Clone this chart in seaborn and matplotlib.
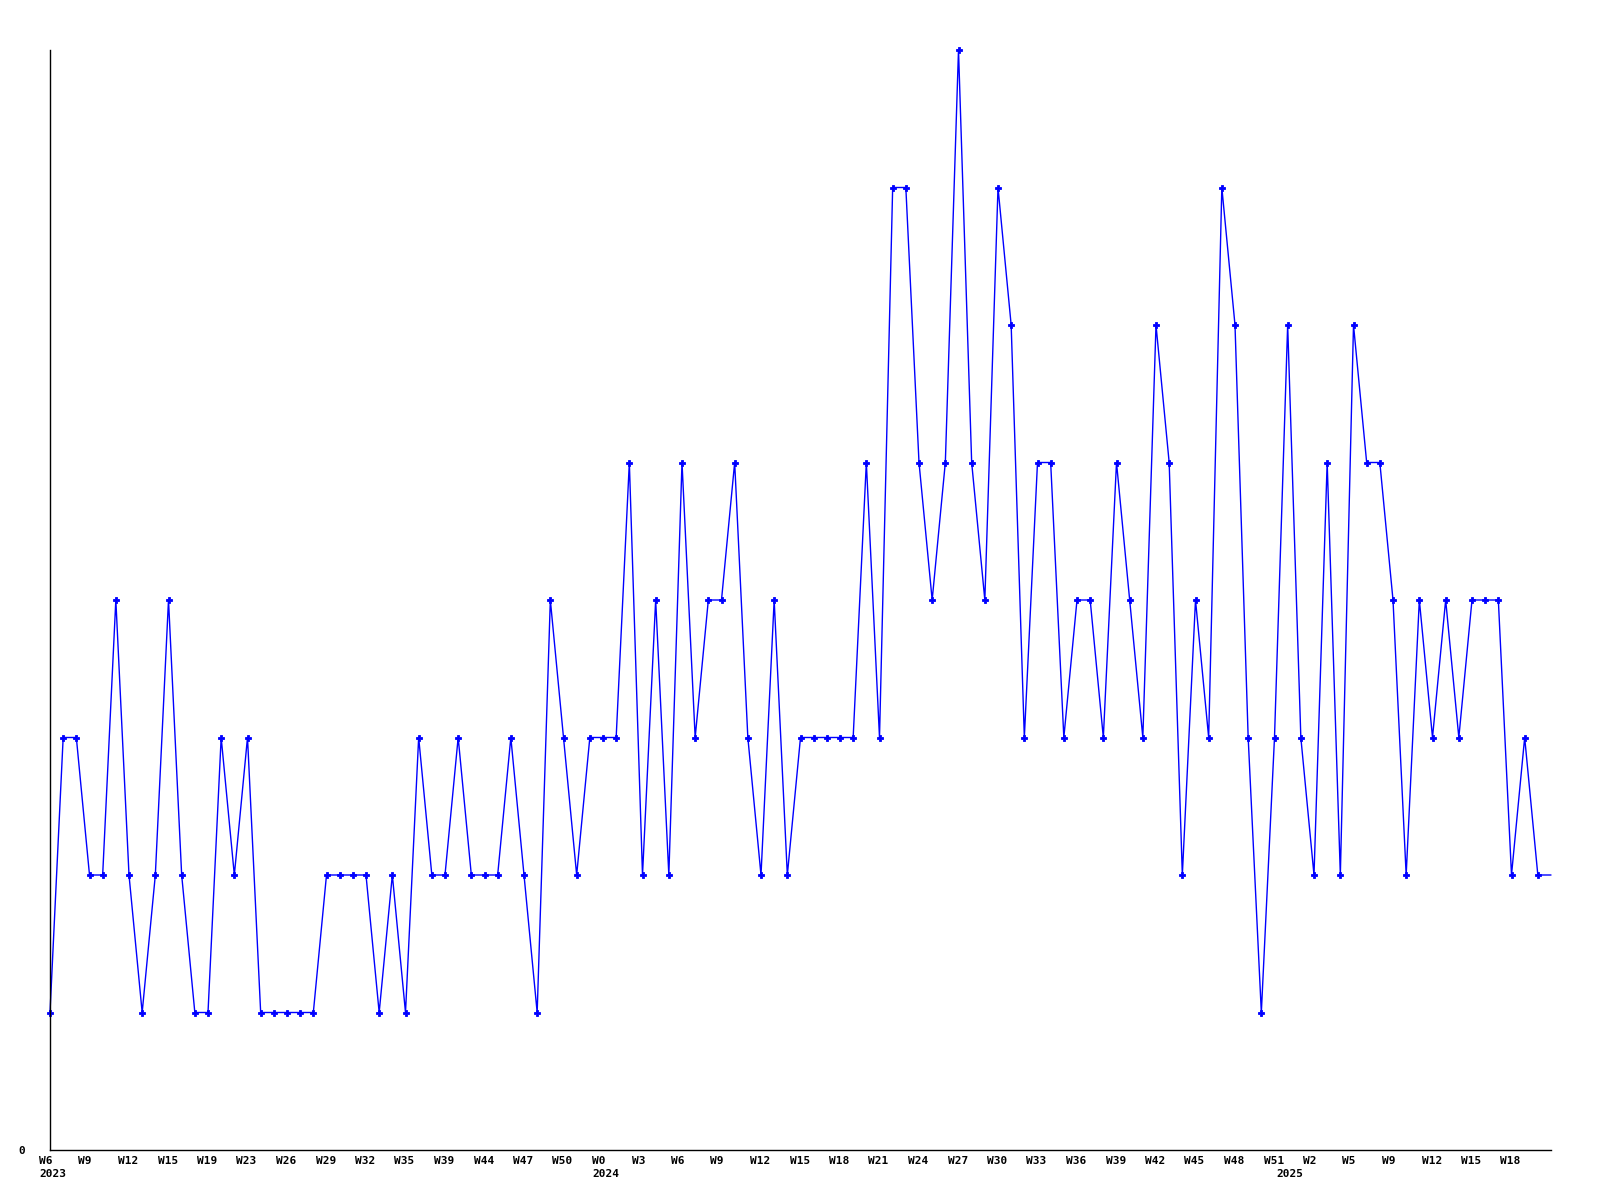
import matplotlib
matplotlib.use("Agg")
import matplotlib.pyplot as plt
import matplotlib.transforms as mtransforms
import seaborn as sns
import pandas as pd

# ---- data ----
values = (
    [1, 3, 3, 2, 2, 4, 2, 1, 2, 4]
    + [2, 1, 1, 3, 2, 3, 1, 1, 1, 1]
    + [1, 2, 2, 2, 2, 1, 2, 1, 3, 2]
    + [2, 3, 2, 2, 2, 3, 2, 1, 4, 3]
    + [2, 3, 3, 3, 5, 2, 4, 2, 5, 3]
    + [4, 4, 5, 3, 2, 4, 2, 3, 3, 3]
    + [3, 3, 5, 3, 7, 7, 5, 4, 5, 8]
    + [5, 4, 7, 6, 3, 5, 5, 3, 4, 4]
    + [3, 5, 4, 3, 6, 5, 2, 4, 3, 7]
    + [6, 3, 1, 3, 6, 3, 2, 5, 2, 6]
    + [5, 5, 4, 2, 4, 3, 4, 3, 4, 4]
    + [4, 2, 3, 2, 2]
)
week_labels = ["W6", "W9", "W12", "W15", "W19", "W23", "W26", "W29", "W32", "W35",
               "W39", "W44", "W47", "W50", "W0", "W3", "W6", "W9", "W12", "W15",
               "W18", "W21", "W24", "W27", "W30", "W33", "W36", "W39", "W42", "W45",
               "W48", "W51", "W2", "W5", "W9", "W12", "W15", "W18"]
label_step = 3
year_positions = [0, 42, 94]
year_texts = ["2023", "2024", "2025"]

df = pd.DataFrame({"idx": range(len(values)), "value": values})

sns.set_style("white")
plt.rcParams["font.family"] = ["DejaVu Sans Mono", "DejaVu Sans"]

fig = plt.figure(figsize=(16, 12), dpi=100)
ax = fig.add_axes([50 / 1600, 50 / 1200, 1501 / 1600, 1100 / 1200])

sns.lineplot(data=df, x="idx", y="value", ax=ax, color="#0000FF", linewidth=1.0,
             marker="P", markersize=4.5, markeredgewidth=0.6,
             markeredgecolor="#0000FF", markerfacecolor="#0000FF",
             markevery=list(range(len(values) - 1)), clip_on=False)

ax.set_xlim(0, len(values) - 1)
ax.set_ylim(0, 8)
ax.set_xlabel("")
ax.set_ylabel("")

ax.tick_params(axis="x", length=0, pad=4, colors="black")
ax.tick_params(axis="y", length=0, pad=18, colors="black")

# x ticks: week labels every 3 points, left-aligned a little before the point
positions = [i * label_step for i in range(len(week_labels))]
ax.set_xticks(positions)
labels = ax.set_xticklabels(week_labels, fontsize=8, fontweight="bold", ha="left")
offset = mtransforms.ScaledTranslation(-11 / 100, 0, fig.dpi_scale_trans)
for lab in labels:
    lab.set_transform(lab.get_transform() + offset)

# year labels on a second line
for p, yt in zip(year_positions, year_texts):
    ax.annotate(yt, xy=(p, 0), xycoords=("data", "axes fraction"),
                xytext=(-11 * 0.72, -19 * 0.72), textcoords="offset points",
                ha="left", va="top", fontsize=8, fontweight="bold", color="black",
                annotation_clip=False)

ax.set_yticks([0])
ax.set_yticklabels(["0"], fontsize=8, fontweight="bold")

for s in ["top", "right"]:
    ax.spines[s].set_visible(False)
for s in ["left", "bottom"]:
    ax.spines[s].set_color("black")
    ax.spines[s].set_linewidth(1.0)
ax.grid(False)
ax.set_facecolor("white")
fig.patch.set_facecolor("white")

fig.savefig("out.png", dpi=100)
